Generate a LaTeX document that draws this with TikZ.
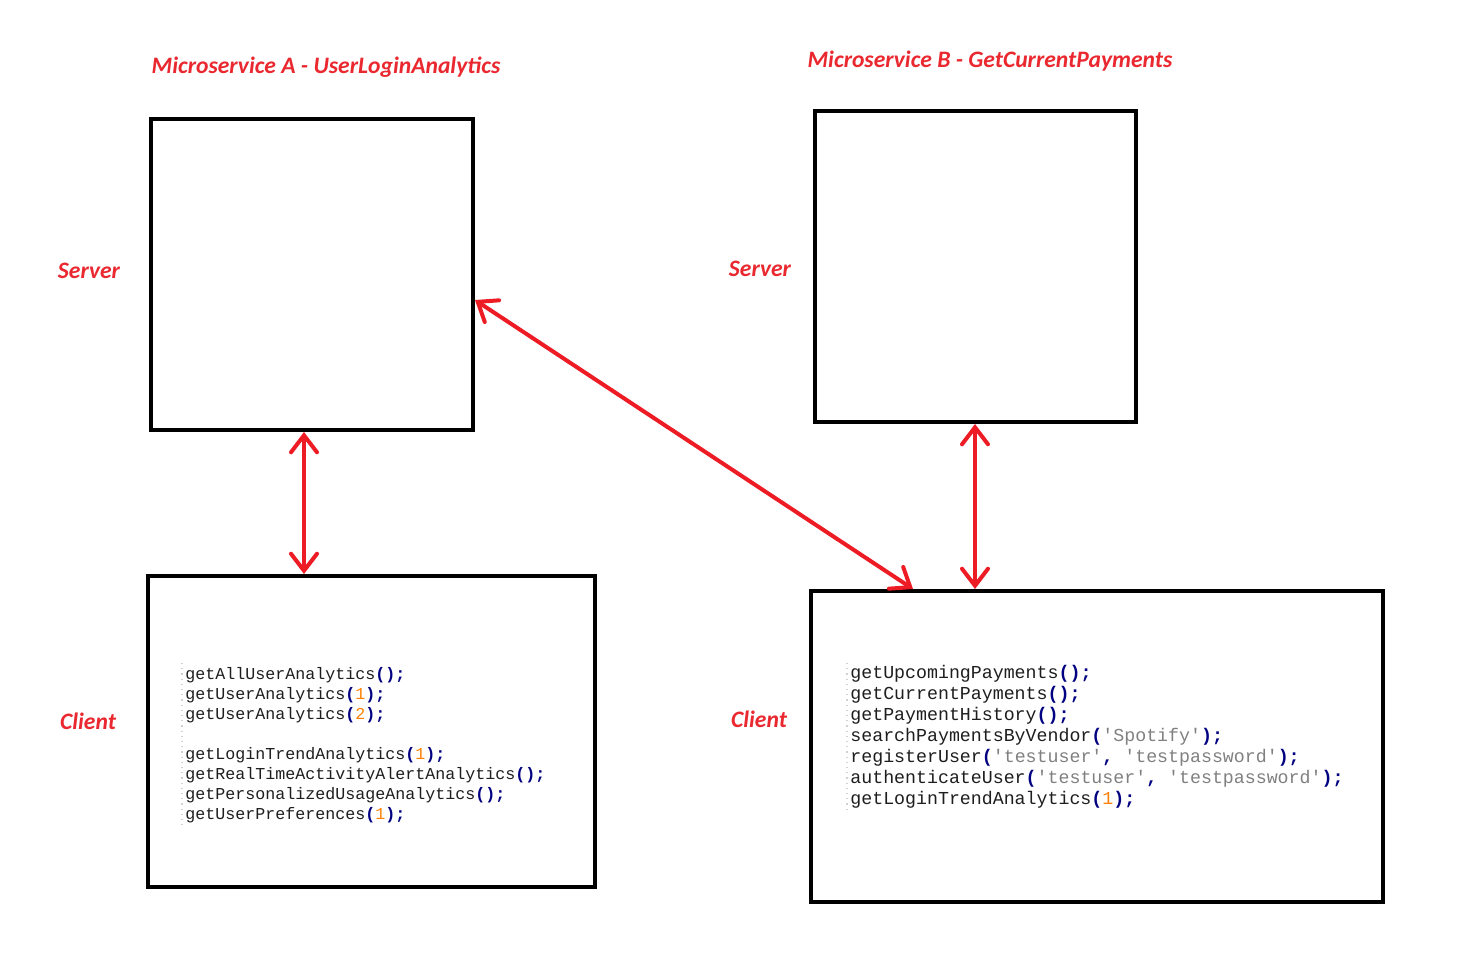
\documentclass[tikz,border=0pt]{standalone}
\usepackage{fontspec}
\setmainfont{Carlito}
\newfontfamily\codefont{Liberation Mono}
\usetikzlibrary{arrows.meta}
\definecolor{paintred}{RGB}{237,28,36}
\definecolor{labelred}{RGB}{234,40,48}
\definecolor{opnavy}{RGB}{0,0,128}
\definecolor{numorange}{RGB}{255,128,0}
\definecolor{strgray}{RGB}{128,128,128}
\definecolor{codetext}{RGB}{30,30,30}
\newcommand\op[1]{\textcolor{opnavy}{\bfseries #1}}
\newcommand\nm[1]{\textcolor{numorange}{#1}}
\newcommand\st[1]{\textcolor{strgray}{#1}}
\tikzset{
  box/.style={draw=black, line width=2pt, inner sep=0pt, fill=none},
  tag/.style={text=labelred, font=\fontsize{11.8pt}{14pt}\selectfont\bfseries\itshape, inner sep=0pt},
  barb/.tip={Straight Barb[length=8.5pt 0 0, width=13pt 0 0, line cap=round]},
  link/.style={draw=paintred, line width=2pt, line cap=round, barb-barb},
  codeA/.style={anchor=base west, inner sep=0pt, text=codetext, font=\codefont\fontsize{8.33pt}{10pt}\selectfont},
  codeB/.style={anchor=base west, inner sep=0pt, text=codetext, font=\codefont\fontsize{9.13pt}{10.5pt}\selectfont},
  gutter/.style={draw=black!18, line width=0.6pt, dotted}
}
\begin{document}
\begin{tikzpicture}[x=0.5pt, y=-0.5pt]
\useasboundingbox (0,0) rectangle (1457,975);

% headings
\node[tag] (titleA) at (326,67) {Microservice A - UserLoginAnalytics};
\node[tag] (titleB) at (990,61) {Microservice B - GetCurrentPayments};

% side labels
\node[tag] (srvLabA) at (89,271) {Server};
\node[tag] (srvLabB) at (760,269) {Server};
\node[tag] (cliLabA) at (88,721) {Client};
\node[tag] (cliLabB) at (759,719) {Client};

% boxes
\node[box, minimum width=161pt, minimum height=155.5pt] (srvA) at (312,274.5) {};
\node[box, minimum width=160.5pt, minimum height=155.5pt] (srvB) at (975.5,266.5) {};
\node[box, minimum width=223.5pt, minimum height=155.5pt] (cliA) at (371.5,731.5) {};
\node[box, minimum width=286pt, minimum height=155.5pt] (cliB) at (1097,746.5) {};

% connector end points on the box edges
\coordinate (aTop) at (srvA.south -| 304,0);
\coordinate (aBot) at (cliA.north -| 304,0);
\coordinate (bTop) at (srvB.south -| 975,0);
\coordinate (bBot) at (cliB.north -| 975,0);
\coordinate (xTop) at (srvA.east |- 0,300);
\coordinate (xBot) at (cliB.north -| 913,0);

\draw[link] (aTop) -- (aBot);
\draw[link] (bTop) -- (bBot);
\draw[link] (xTop) -- (xBot);

% editor gutters
\draw[gutter] (182,663) -- (182,826);
\draw[gutter] (847,663) -- (847,812);

% client A calls
\node[codeA] (a1) at (185,679) {getAllUserAnalytics\op{();}};
\node[codeA] (a2) at (185,699) {getUserAnalytics\op{(}\nm{1}\op{);}};
\node[codeA] (a3) at (185,719) {getUserAnalytics\op{(}\nm{2}\op{);}};
\node[codeA] (a4) at (185,759) {getLoginTrendAnalytics\op{(}\nm{1}\op{);}};
\node[codeA] (a5) at (185,779) {getRealTimeActivityAlertAnalytics\op{();}};
\node[codeA] (a6) at (185,799) {getPersonalizedUsageAnalytics\op{();}};
\node[codeA] (a7) at (185,819) {getUserPreferences\op{(}\nm{1}\op{);}};

% client B calls
\node[codeB] (b1) at (850,678) {getUpcomingPayments\op{();}};
\node[codeB] (b2) at (850,699) {getCurrentPayments\op{();}};
\node[codeB] (b3) at (850,720) {getPaymentHistory\op{();}};
\node[codeB] (b4) at (850,741) {searchPaymentsByVendor\op{(}\st{'Spotify'}\op{);}};
\node[codeB] (b5) at (850,762) {registerUser\op{(}\st{'testuser'}\op{,} \st{'testpassword'}\op{);}};
\node[codeB] (b6) at (850,783) {authenticateUser\op{(}\st{'testuser'}\op{,} \st{'testpassword'}\op{);}};
\node[codeB] (b7) at (850,804) {getLoginTrendAnalytics\op{(}\nm{1}\op{);}};
\end{tikzpicture}
\end{document}
